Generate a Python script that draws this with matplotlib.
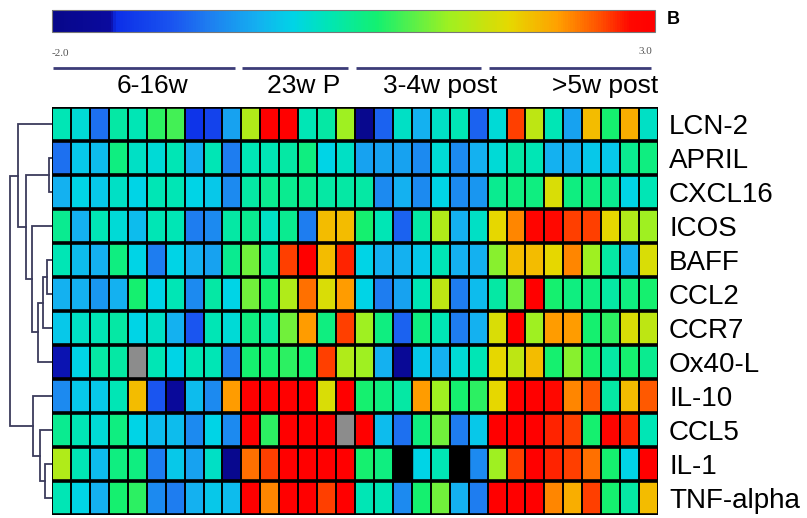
import numpy as np
import matplotlib
matplotlib.use("Agg")
import matplotlib.pyplot as plt
from matplotlib.colors import LinearSegmentedColormap, Normalize
from matplotlib.cm import ScalarMappable

plt.rcParams["font.family"] = ["Liberation Sans", "DejaVu Sans"]

# genes in dendrogram order, top to bottom
genes = ["LCN-2", "APRIL", "CXCL16", "ICOS", "BAFF", "CCL2",
         "CCR7", "Ox40-L", "IL-10", "CCL5", "IL-1", "TNF-alpha"]

# sample groups (columns)
groups = ["6-16w", "23w P", "3-4w post", ">5w post"]
group_sizes = [10, 6, 7, 9]

nan = np.nan
# log-ratio values, one list per gene (32 samples)
lcn2 = [0.3, 0.1, -0.8, 0.4, 0.3, 0.8, 0.9, -1.4, -1.2, -0.4, 1.4, 3.0, 3.0, 0.3, 0.4, 1.3,
        -1.9, -0.9, 0.2, -0.3, 0.2, 0.3, -0.9, 0.1, 2.6, 1.5, 0.3, -0.4, 2.0, 0.7, 2.1, 0.2]
april = [-0.8, -0.1, -0.2, 0.6, 0.2, 0.1, 0.3, -0.3, 0.3, -0.7, 0.3, 0.3, 0.4, 0.6, 0.0, 0.2,
         -0.4, -0.4, -0.4, -0.6, 0.1, -0.6, -0.3, 0.1, 0.4, 0.3, -0.3, -0.3, -0.1, -0.1, 0.5, 0.6]
cxcl16 = [-0.3, 0.0, -0.1, 0.2, 0.0, 0.3, 0.3, 0.0, -0.1, -0.6, 0.4, 0.5, 0.5, 0.5, 0.4, 0.4,
          0.4, -0.6, -0.3, -0.6, 0.0, -0.6, -0.5, 0.5, 0.6, 0.6, 1.7, 0.6, 0.6, 0.5, 0.0, 0.3]
icos = [0.5, -0.3, 0.3, 0.1, -0.2, 0.3, 0.3, -0.7, -0.6, 0.4, 0.5, 0.2, 0.5, -0.7, 2.0, 2.0,
        0.7, 0.3, -0.9, 0.4, 1.4, -0.3, 0.2, 1.8, 2.3, 2.9, 2.8, 2.6, 2.6, 1.8, 1.4, 1.3]
baff = [0.3, -0.2, -0.3, 0.6, 0.0, -0.7, 0.0, -0.3, -0.4, 0.5, 1.1, 0.4, 2.6, 3.0, 2.0, 2.7,
        0.0, -0.3, -0.3, -0.1, 0.3, -0.3, -0.3, 1.2, 2.0, 2.0, 1.8, 2.3, 1.3, 0.4, -0.3, 1.7]
ccl2 = [-0.3, -0.3, -0.5, -0.3, 0.7, 0.0, 0.3, -0.6, 0.4, 0.0, 1.1, 0.7, 1.4, 2.4, 1.7, 2.2,
        0.0, -0.7, -0.4, 0.3, 1.5, -0.7, -0.2, 0.4, 1.1, 3.0, 0.7, 0.6, 0.6, 0.4, 0.6, 0.7]
ccr7 = [-0.1, 0.2, 0.3, 0.4, 0.0, 0.2, -0.3, -1.0, 0.3, 0.1, 0.6, 0.4, 1.1, 2.2, 0.6, 2.6,
        1.3, 0.6, -0.9, 0.6, 0.3, -0.7, -0.3, 1.7, 3.0, 1.3, 2.2, 2.2, 0.7, 0.8, 1.7, 1.5]
ox40l = [-1.5, 0.0, 0.4, 0.4, nan, 0.3, 0.0, 0.3, 0.3, -0.7, 0.7, 0.7, 0.8, 0.7, 2.6, 1.4,
         1.3, -0.3, -1.7, -0.1, -0.3, 0.1, 0.3, 1.8, 1.5, 2.0, 0.7, 1.2, 0.7, 0.4, 0.7, 0.5]
il10 = [-0.6, -0.1, -0.1, 0.3, 2.0, -1.0, -1.6, -0.2, -0.6, 2.2, 3.0, 3.0, 3.0, 3.0, 1.7, 3.0,
        0.7, 0.6, 0.4, 2.2, 1.3, 0.7, 0.8, 1.8, 3.0, 3.0, 2.8, 2.3, 2.5, 0.4, 2.0, 2.5]
ccl5 = [0.5, 0.3, 0.1, 0.6, 0.0, -0.2, -0.2, -0.6, 0.0, -0.6, 3.0, 0.8, 3.0, 3.0, 3.0, nan,
        3.0, -0.2, -0.8, 0.6, 1.1, -0.7, -0.1, 3.0, 3.0, 3.0, 2.7, 2.6, 0.7, 2.9, 2.7, 0.3]
il1 = [1.4, 0.3, -0.2, 0.6, 0.6, -0.7, -0.1, -0.4, 0.2, -1.9, 2.4, 2.6, 3.0, 3.0, 3.0, 3.0,
       0.7, 0.6, nan, 0.0, 0.3, nan, -0.6, 1.3, 2.6, 3.0, 2.7, 2.6, 2.4, 0.7, 0.0, 3.0]
tnfa = [0.3, 0.0, -0.3, 0.7, 0.8, -0.6, -0.7, -0.3, -0.1, -0.2, 3.0, 2.3, 3.0, 3.0, 2.6, 3.0,
        0.3, 0.3, -0.6, 0.7, 1.1, -0.3, -0.7, 3.0, 3.0, 3.0, 2.3, 2.1, 2.6, 0.7, 0.4, 2.0]

# samples with no value at all (shown black); other NaNs are shown grey
black_cells = [("IL-1", 18), ("IL-1", 21)]

# hierarchical clustering of genes: (left, right, height); ids >= 12 are merged nodes
linkage = [(1, 2, 3), (4, 5, 5), (13, 6, 9), (14, 7, 14), (3, 15, 20),
           (12, 16, 26), (0, 17, 34), (10, 11, 7), (9, 19, 12), (8, 20, 19),
           (18, 21, 42.5)]

vmin, vmax = -2.0, 3.0
cmap_stops = [(-2.0, "#07078a"), (-1.52, "#0a0a9e"), (-1.48, "#0c2ee8"), (-1.0, "#1a55f0"),
              (-0.7, "#1e7ef0"), (-0.3, "#14b0f0"), (0.0, "#00d4e6"), (0.3, "#00e6b4"),
              (0.7, "#14f070"), (1.3, "#a0f020"), (1.8, "#e6d800"), (2.2, "#ffa000"),
              (2.55, "#ff5000"), (2.8, "#ff0800"), (3.0, "#ff0000")]
cmap = LinearSegmentedColormap.from_list(
    "expr", [((v - vmin) / (vmax - vmin), c) for v, c in cmap_stops])
cmap.set_bad("#8c8c8c")
norm = Normalize(vmin, vmax)

data = np.array([lcn2, april, cxcl16, icos, baff, ccl2, ccr7, ox40l, il10, ccl5, il1, tnfa])
nrow, ncol = data.shape

W, H = 807, 518
fig = plt.figure(figsize=(W / 100, H / 100), dpi=100)

def px_axes(x0, y0, x1, y1):
  # axes from pixel box (top-left origin)
  return fig.add_axes([x0 / W, 1 - y1 / H, (x1 - x0) / W, (y1 - y0) / H])

# heatmap
ax = px_axes(52, 107, 658, 515)
ax.pcolormesh(np.arange(ncol + 1), np.arange(nrow + 1), np.ma.masked_invalid(data),
              cmap=cmap, norm=norm)
for gene, col in black_cells:
  r = genes.index(gene)
  ax.add_patch(plt.Rectangle((col, r), 1, 1, color="black", zorder=2))
ax.vlines(np.arange(ncol + 1), 0, nrow, color="black", lw=1.4, zorder=3)
ax.hlines(np.arange(nrow + 1), 0, ncol, color="black", lw=2.6, zorder=3)
ax.set_xlim(0, ncol)
ax.set_ylim(nrow, 0)
ax.set_xticks([])
ax.set_yticks(np.arange(nrow) + 0.5)
ax.set_yticklabels(genes)
ax.yaxis.set_ticks_position("right")
ax.tick_params(axis="y", length=0, pad=8, labelsize=20)
for s in ax.spines.values():
  s.set_visible(False)

# dendrogram on the left
dax = px_axes(0, 107, 52, 515)
pos = {i: i + 0.5 for i in range(nrow)}
hgt = {i: 0.0 for i in range(nrow)}
for k, (a, b, h) in enumerate(linkage):
  node = nrow + k
  dax.plot([hgt[a], h, h, hgt[b]], [pos[a], pos[a], pos[b], pos[b]],
           color="#3b3b5c", lw=1.3, solid_joinstyle="miter")
  pos[node] = (pos[a] + pos[b]) / 2
  hgt[node] = h
dax.set_xlim(52, 0)
dax.set_ylim(nrow, 0)
dax.axis("off")

# group header lines and labels
hax = px_axes(52, 40, 658, 100)
hax.set_xlim(0, ncol)
hax.set_ylim(100, 40)
hax.axis("off")
label_shift = [0.3, 0.3, 1.0, 1.7]
start = 0
for name, n, sh in zip(groups, group_sizes, label_shift):
  hax.plot([start + 0.05, start + n - 0.35], [68, 68], color="#3c3c78", lw=2.0,
           solid_capstyle="butt")
  hax.text(start + n / 2 + sh, 86, name, ha="center", va="center", fontsize=19)
  start += n

# colour scale
cax = px_axes(52, 10, 655, 32)
cb = fig.colorbar(ScalarMappable(norm=norm, cmap=cmap), cax=cax, orientation="horizontal")
cb.set_ticks([])
cb.outline.set_edgecolor("#777777")
cb.outline.set_linewidth(0.8)
fig.text(52 / W, 1 - 53 / H, "%.1f" % vmin, ha="left", va="center", fontsize=8,
         family="Liberation Serif", color="#555555")
fig.text(652 / W, 1 - 52 / H, "%.1f" % vmax, ha="right", va="center", fontsize=8,
         family="Liberation Serif", color="#555555")
fig.text(667 / W, 1 - 20 / H, "B", ha="left", va="center", fontsize=13, fontweight="bold")

fig.savefig("out.png", dpi=100)
